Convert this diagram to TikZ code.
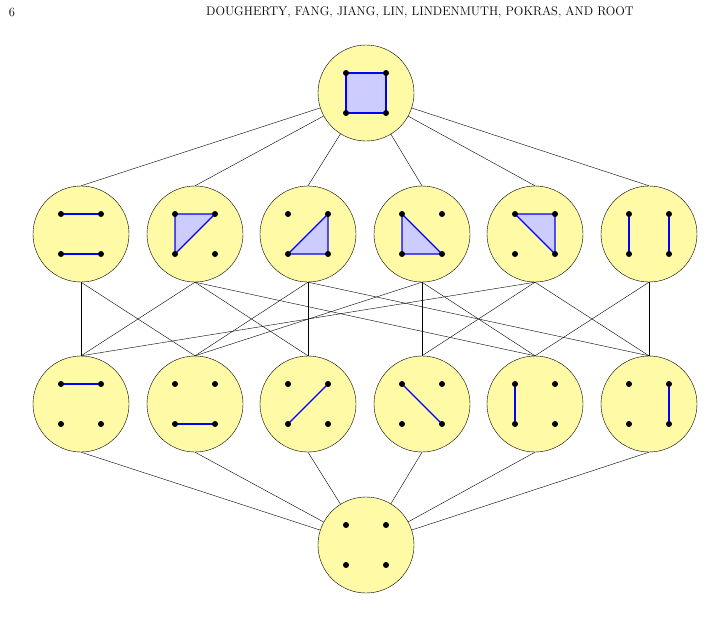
\documentclass[tikz,border=0pt]{standalone}
\usetikzlibrary{calc}
\begin{document}
\begin{tikzpicture}[x=1pt,y=-1pt,
  st/.style={circle,draw,fill=yellow!35!white,minimum size=96pt,inner sep=0pt},
  bl/.style={draw=blue,line width=1.2pt},
  tri/.style={draw=blue,line width=1.2pt,fill=blue!20,line join=round},
  dt/.style={circle,fill=black,inner sep=0pt,minimum size=6pt}]
\useasboundingbox (0,0) rectangle (704,621);
\node[font=\fontsize{12.5}{14}\selectfont] (pg) at (12,12) {6};
\node[font=\fontsize{12.5}{14}\selectfont] (hd) at (420,12) {DOUGHERTY, FANG, JIANG, LIN, LINDENMUTH, POKRAS, AND ROOT};
\node[st] (t) at (366,93) {};
\foreach \i/\x in {1/81,2/195,3/308,4/422,5/535,6/649}{
  \node[st] (r\i) at (\x,234) {};
  \node[st] (s\i) at (\x,404) {};
}
\node[st] (b) at (366,545) {};
\foreach \i in {1,...,6}{\draw (t) -- (r\i.north); \draw (s\i.south) -- (b);}
\foreach \a/\c in {1/1,1/2,2/1,2/3,2/5,3/2,3/3,3/6,4/2,4/4,4/5,5/1,5/4,5/6,6/5,6/6}
  \draw (r\a.south) -- (s\c.north);
\foreach \n in {t,r1,r2,r3,r4,r5,r6,s1,s2,s3,s4,s5,s6,b}{
  \coordinate (\n A) at ($(\n)+(-20,-20)$);\coordinate (\n B) at ($(\n)+(20,-20)$);
  \coordinate (\n C) at ($(\n)+(-20,20)$);\coordinate (\n D) at ($(\n)+(20,20)$);}
\draw[tri] (tA) -- (tB) -- (tD) -- (tC) -- cycle;
\draw[bl] (r1A) -- (r1B) (r1C) -- (r1D);
\draw[tri] (r2A) -- (r2B) -- (r2C) -- cycle;
\draw[tri] (r3B) -- (r3D) -- (r3C) -- cycle;
\draw[tri] (r4A) -- (r4D) -- (r4C) -- cycle;
\draw[tri] (r5A) -- (r5B) -- (r5D) -- cycle;
\draw[bl] (r6A) -- (r6C) (r6B) -- (r6D);
\draw[bl] (s1A) -- (s1B);
\draw[bl] (s2C) -- (s2D);
\draw[bl] (s3B) -- (s3C);
\draw[bl] (s4A) -- (s4D);
\draw[bl] (s5A) -- (s5C);
\draw[bl] (s6B) -- (s6D);
\foreach \n in {t,r1,r2,r3,r4,r5,r6,s1,s2,s3,s4,s5,s6,b}
  \foreach \p in {A,B,C,D} \node[dt] (\n d\p) at (\n\p) {};
\end{tikzpicture}
\end{document}
